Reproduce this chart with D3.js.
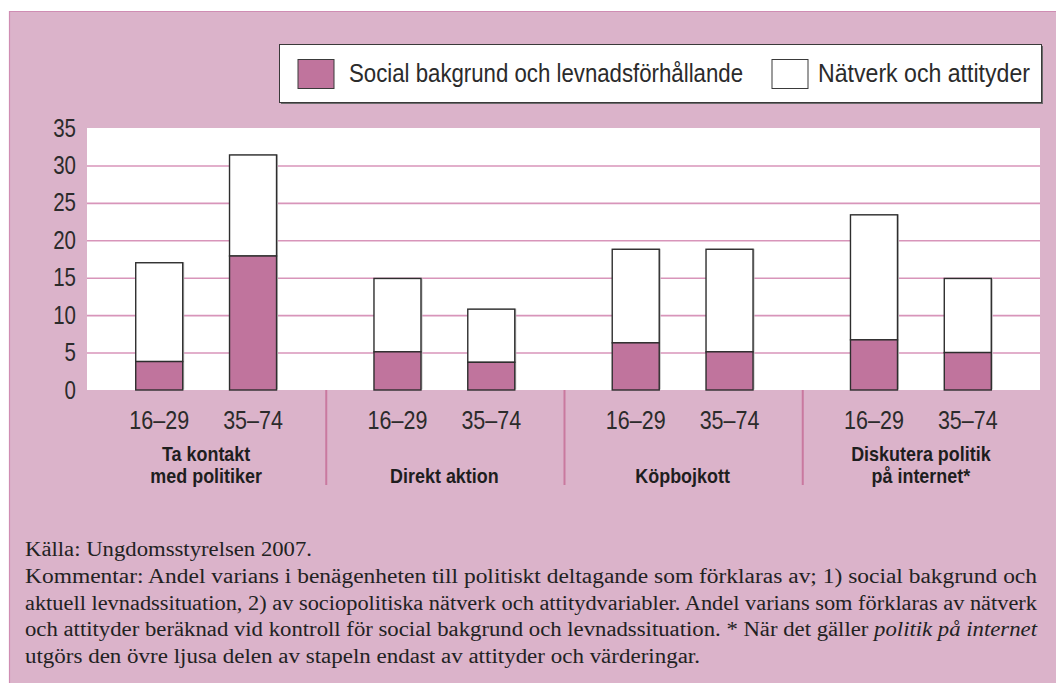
<!DOCTYPE html>
<html>
<head>
<meta charset="utf-8">
<script src="https://cdn.jsdelivr.net/npm/d3@7"></script>
<style>
  html, body { margin: 0; padding: 0; background: #fff; }
  svg { display: block; }
  .cond { font-family: "Liberation Sans", Arial, sans-serif; }
</style>
</head>
<body>
<div id="chart"></div>
<script>
// Data
const groups = ['Ta kontakt|med politiker', 'Direkt aktion', 'Köpbojkott', 'Diskutera politik|på internet*'];
const ages = ['16–29', '35–74'];
const socialValues = [3.8, 17.9, 5.1, 3.7, 6.3, 5.1, 6.7, 5.0];
const totalValues = [17.0, 31.4, 14.9, 10.8, 18.8, 18.8, 23.4, 14.9];
const yTicks = [0, 5, 10, 15, 20, 25, 30, 35];
const seriesNames = ['Social bakgrund och levnadsförhållande', 'Nätverk och attityder'];
const noteLines = [
    'Källa: Ungdomsstyrelsen 2007.',
    'Kommentar: Andel varians i benägenheten till politiskt deltagande som förklaras av; 1) social bakgrund och',
    'aktuell levnadssituation, 2) av sociopolitiska nätverk och attitydvariabler. Andel varians som förklaras av nätverk',
    'och attityder beräknad vid kontroll för social bakgrund och levnadssituation. * När det gäller <i>politik på internet</i>',
    'utgörs den övre ljusa delen av stapeln endast av attityder och värderingar.'
];

const W = 1056, H = 683;
const pink = '#dbb3ca';
const barPink = '#c0749d';
const plot = {left: 87, right: 1040, top: 128, bottom: 390};

const rows = [];
groups.forEach((g, gi) => ages.forEach((a, ai) => {
    const i = gi * 2 + ai;
    rows.push({group: g, age: a, social: socialValues[i], total: totalValues[i]});
}));

const svg = d3.select('#chart').append('svg')
    .attr('width', W).attr('height', H)
    .attr('viewBox', [0, 0, W, H]);

// Panel background
svg.append('rect')
    .attr('x', 9).attr('y', 11).attr('width', W - 9).attr('height', H - 11)
    .attr('fill', pink);
svg.append('path')
    .attr('d', `M9.5,${H}V11.5H${W}`)
    .attr('fill', 'none').attr('stroke', '#cf8db3').attr('stroke-width', 1.2);

// Plot area
svg.append('rect')
    .attr('x', plot.left).attr('y', plot.top)
    .attr('width', plot.right - plot.left).attr('height', plot.bottom - plot.top)
    .attr('fill', '#fff');

const y = d3.scaleLinear().domain([0, 35]).range([plot.bottom, plot.top]);
const xGroup = d3.scaleBand().domain(groups).range([plot.left, plot.right]);
const xAge = d3.scaleBand().domain(ages).range([0, xGroup.bandwidth()]).paddingInner(0.96).paddingOuter(0.75);
const barW = 47;

// Grid lines
svg.append('g')
    .attr('transform', `translate(${plot.left},0)`)
    .call(d3.axisLeft(y).tickValues(yTicks.filter(t => t > 0 && t < 35))
        .tickSize(-(plot.right - plot.left)).tickFormat(''))
    .call(g => g.select('.domain').remove())
    .call(g => g.selectAll('line').attr('stroke', '#d895ba').attr('stroke-width', 1.6));

// Y tick labels (condensed look via horizontal scale)
svg.append('g')
    .attr('transform', `translate(${plot.left - 11},0)`)
    .call(d3.axisLeft(y).tickValues(yTicks).tickSize(0).tickPadding(0))
    .call(g => g.select('.domain').remove())
    .call(g => g.selectAll('text')
        .attr('class', 'cond')
        .attr('fill', '#2b2b2b')
        .attr('transform', 'scale(0.82,1)')
        .style('font-size', '25px')
        .attr('font-family', null));

const barX = d => xGroup(d.group) + xAge(d.age) + xAge.bandwidth() / 2 - barW / 2;

const bars = svg.append('g').selectAll('g').data(rows).join('g');

// light shadow to the right of each bar
bars.append('rect')
    .attr('x', d => barX(d) + 1.5)
    .attr('y', d => y(d.total) - 0.5)
    .attr('width', barW)
    .attr('height', d => y(0) - y(d.total))
    .attr('fill', '#bdbdbd');

bars.append('rect')
    .attr('x', d => barX(d))
    .attr('y', d => y(d.total))
    .attr('width', barW)
    .attr('height', d => y(d.social) - y(d.total))
    .attr('fill', '#fff')
    .attr('stroke', '#2e2e2e').attr('stroke-width', 1.4);

bars.append('rect')
    .attr('x', d => barX(d))
    .attr('y', d => y(d.social))
    .attr('width', barW)
    .attr('height', d => y(0) - y(d.social))
    .attr('fill', barPink)
    .attr('stroke', '#2e2e2e').attr('stroke-width', 1.4);

// Age labels
svg.append('g').selectAll('text').data(rows).join('text')
    .attr('class', 'cond')
    .attr('transform', d => `translate(${barX(d) + barW / 2},429) scale(0.86,1)`)
    .attr('text-anchor', 'middle')
    .attr('fill', '#2b2b2b')
    .style('font-size', '25px')
    .text(d => d.age);

// Group separators
svg.append('g').selectAll('line').data(groups.slice(1)).join('line')
    .attr('x1', d => xGroup(d) + 1).attr('x2', d => xGroup(d) + 1)
    .attr('y1', plot.bottom).attr('y2', 485)
    .attr('stroke', '#c9799f').attr('stroke-width', 2);

// Group labels
const gl = svg.append('g').selectAll('text').data(groups).join('text')
    .attr('class', 'cond')
    .attr('text-anchor', 'middle')
    .attr('fill', '#1e1e1e')
    .style('font-size', '19.5px')
    .style('font-weight', 'bold')
    .attr('transform', d => `translate(${xGroup(d) + xGroup.bandwidth() / 2},0) scale(0.92,1)`);
gl.each(function(d) {
    const parts = d.split('|');
    const t = d3.select(this);
    parts.forEach((p, i) => {
        t.append('tspan').attr('x', 0)
            .attr('y', parts.length === 1 ? 483 : 461 + i * 22.5)
            .text(p);
    });
});

// Legend
const leg = svg.append('g');
leg.append('rect').attr('x', 281).attr('y', 46).attr('width', 762).attr('height', 58).attr('fill', '#6b6b6b');
leg.append('rect').attr('x', 279.5).attr('y', 44.5).attr('width', 762).attr('height', 58)
    .attr('fill', '#fff').attr('stroke', '#3a3a3a').attr('stroke-width', 1);
const legItems = [
    {name: seriesNames[0], fill: barPink, sx: 298, tx: 349, len: 394},
    {name: seriesNames[1], fill: '#fff', sx: 772, tx: 818, len: 212}
];
legItems.forEach(it => {
    leg.append('rect').attr('x', it.sx).attr('y', 59.5).attr('width', 36).attr('height', 29)
        .attr('fill', it.fill).attr('stroke', '#3a3a3a').attr('stroke-width', 1);
    leg.append('text').attr('class', 'cond')
        .attr('x', it.tx).attr('y', 82)
        .attr('fill', '#2b2b2b')
        .attr('textLength', it.len).attr('lengthAdjust', 'spacingAndGlyphs')
        .style('font-size', '25px')
        .text(it.name);
});

// Footnote
const noteLens = [287, 1012, 1012, 1012, 675];
const note = svg.append('g')
    .style('font-family', '"Liberation Serif", "DejaVu Serif", serif')
    .style('font-size', '20.5px')
    .attr('fill', '#222');
noteLines.forEach((line, i) => {
    const t = note.append('text')
        .attr('x', 25)
        .attr('y', 556 + i * 26.8)
        .attr('textLength', noteLens[i])
        .attr('lengthAdjust', 'spacingAndGlyphs');
    const pieces = line.split(/(<i>.*?<\/i>)/);
    pieces.forEach(p => {
        if (!p) return;
        const ital = p.startsWith('<i>');
        t.append('tspan')
            .style('font-style', ital ? 'italic' : 'normal')
            .text(ital ? p.replace(/<\/?i>/g, '') : p);
    });
});
</script>
</body>
</html>
